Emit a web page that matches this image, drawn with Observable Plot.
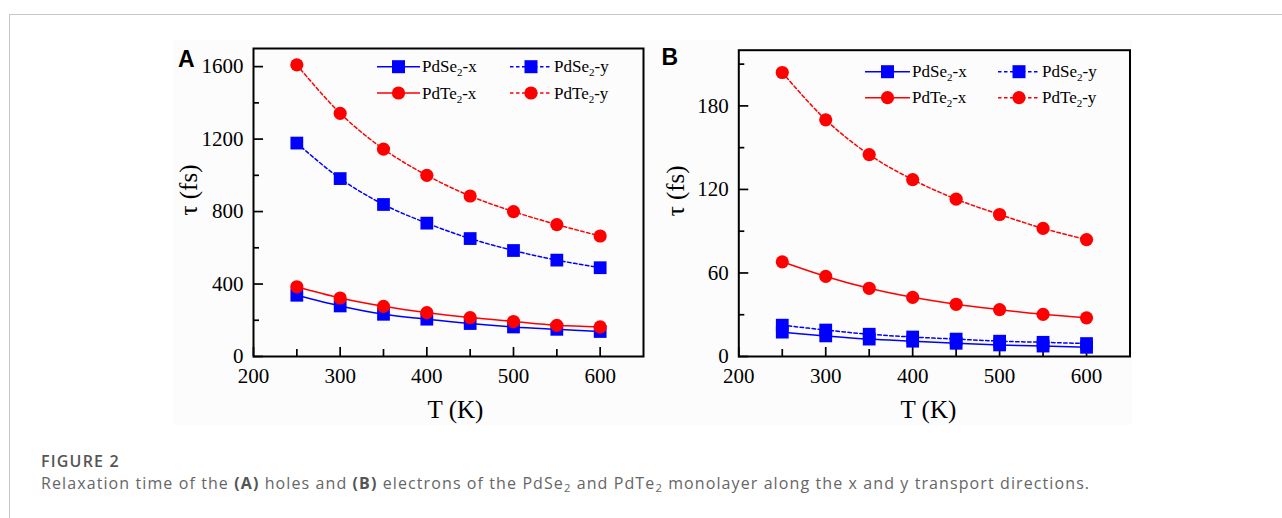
<!DOCTYPE html>
<html><head><meta charset="utf-8">
<script src="https://cdn.jsdelivr.net/npm/d3@7"></script>
<script src="https://cdn.jsdelivr.net/npm/@observablehq/plot@0.6"></script>
<style>
html,body{margin:0;padding:0;background:#fff;}
#page{position:relative;width:1282px;height:518px;overflow:hidden;background:#fff;}
#card{position:absolute;left:9px;top:14px;width:1300px;height:540px;border-left:1px solid #c8c8c8;border-top:1px solid #c8c8c8;}
#figbg{position:absolute;left:173px;top:40px;width:959px;height:385px;background:#fcfcfc;}
.panel{position:absolute;top:40px;}
#panelA{left:170px;} #panelB{left:650px;}
#figlabel{position:absolute;left:41px;top:452.8px;font-family:"Open Sans";font-weight:600;font-size:16px;letter-spacing:1.2px;line-height:1;color:#555;white-space:nowrap;}
#caption{position:absolute;left:41px;top:474.8px;font-family:"Open Sans";font-size:16px;letter-spacing:1.1px;line-height:1;color:#666;white-space:nowrap;}
#caption b{font-weight:700;color:#555;}
#caption sub{font-size:0.7em;vertical-align:-0.3em;line-height:0;}
</style></head>
<body>
<div id="page">
  <div id="card"></div>
  <div id="figbg"></div>
  <div class="panel" id="panelA"></div>
  <div class="panel" id="panelB"></div>
  <div id="figlabel">FIGURE 2</div>
  <div id="caption">Relaxation time of the <b>(A)</b> holes and <b>(B)</b> electrons of the PdSe<sub>2</sub> and PdTe<sub>2</sub> monolayer along the x and y transport directions.</div>
</div>
<script>
// ---- data ----
const temps = [250, 300, 350, 400, 450, 500, 550, 600];
// Panel A: holes (fs)
const holesPdSe2x = [338, 279, 233, 206, 182, 163, 150, 138];
const holesPdSe2y = [1178, 982, 839, 736, 651, 585, 532, 490];
const holesPdTe2x = [385, 323, 277, 242, 215, 193, 172, 163];
const holesPdTe2y = [1610, 1342, 1145, 1000, 886, 800, 728, 665];
// Panel B: electrons (fs)
const elecPdSe2x = [17.5, 14.8, 12.5, 11.0, 9.5, 8.3, 7.5, 6.6];
const elecPdSe2y = [22.5, 19.0, 16.0, 14.0, 12.5, 11.0, 10.2, 9.3];
const elecPdTe2x = [68, 57.5, 49, 42.5, 37.5, 33.7, 30.3, 27.8];
const elecPdTe2y = [204, 170, 145, 127, 113, 102, 92, 84];
// ticks
const xMajor = [200, 300, 400, 500, 600];
const xMinor = [250, 350, 450, 550];
const yMajorA = [0, 400, 800, 1200, 1600];
const yMinorA = [200, 600, 1000, 1400];
const yMajorB = [0, 60, 120, 180];
const yMinorB = [30, 90, 150, 210];
const seriesNames = ["PdSe2-x", "PdSe2-y", "PdTe2-x", "PdTe2-y"];

const BLUE = "#0000ff", RED = "#ff0000";
const SERIF = "Liberation Serif, Times New Roman, serif";
const styles = {
  "PdSe2-x": {color: BLUE, dash: null, symbol: "square"},
  "PdSe2-y": {color: BLUE, dash: "3.5,2.5", symbol: "square"},
  "PdTe2-x": {color: RED, dash: null, symbol: "circle"},
  "PdTe2-y": {color: RED, dash: "3.5,2.5", symbol: "circle"}
};

function rows(vals, name) { return temps.map((t, i) => ({T: t, tau: vals[i], s: name})); }

function panel(cfg) {
  const pw = cfg.width - cfg.mL - cfg.mR;
  const ph = cfg.height - cfg.mT - cfg.mB;
  const marks = [
    Plot.tickX(xMinor, {x: d => d, insetTop: ph - 7, stroke: "#000", strokeWidth: 1.7}),
    Plot.tickX(xMajor, {x: d => d, insetTop: ph - 9, stroke: "#000", strokeWidth: 1.7}),
    Plot.tickY(cfg.yMinor, {y: d => d, insetRight: pw - 6, stroke: "#000", strokeWidth: 1.7}),
    Plot.tickY(cfg.yMajor, {y: d => d, insetRight: pw - 10, stroke: "#000", strokeWidth: 1.7}),
    Plot.axisX({ticks: xMajor, tickSize: 0, tickPadding: 12, tickFormat: "d", fontSize: 21, fontFamily: SERIF, fill: "#000", label: null}),
    Plot.axisY({ticks: cfg.yMajor, tickSize: 0, tickPadding: 10, tickFormat: "d", fontSize: 21, fontFamily: SERIF, fill: "#000", label: null}),
    Plot.text(["T (K)"], {text: d => d, frameAnchor: "bottom", dy: 53, dx: cfg.xTitleDx, fontSize: 25, fontFamily: SERIF, lineAnchor: "middle", fill: "#000"}),
    Plot.text(["τ (fs)"], {text: d => d, frameAnchor: "left", dx: cfg.yTitleDx, dy: 13, rotate: -90, fontSize: 25, fontFamily: SERIF, lineAnchor: "middle", fill: "#000"})
  ];
  cfg.series.forEach(([name, vals]) => {
    const st = styles[name];
    const data = rows(vals, name);
    marks.push(Plot.line(data, {x: "T", y: "tau", curve: "catmull-rom", stroke: st.color, strokeWidth: 1.5, strokeDasharray: st.dash}));
    marks.push(Plot.dot(data, {x: "T", y: "tau", symbol: st.symbol, r: st.symbol === "square" ? 7.2 : 6.6, fill: st.color, stroke: "none"}));
  });
  marks.push(Plot.frame({stroke: "#000", strokeWidth: 2}));
  const svg = Plot.plot({
    width: cfg.width, height: cfg.height,
    marginLeft: cfg.mL, marginRight: cfg.mR, marginTop: cfg.mT, marginBottom: cfg.mB,
    x: {domain: [200, 650]},
    y: {domain: cfg.yDomain},
    style: {background: "transparent", overflow: "visible"},
    marks
  });
  // legend
  const g = d3.select(svg).append("g").attr("font-family", SERIF).attr("font-size", 17).attr("text-anchor", "start");
  seriesNames.forEach((name, i) => {
    const st = styles[name];
    const col = cfg.legend.cols[i % 2];
    const yy = cfg.legend.rows[Math.floor(i / 2)];
    g.append("line").attr("x1", col.x0).attr("x2", col.x1).attr("y1", yy).attr("y2", yy)
      .attr("stroke", st.color).attr("stroke-width", 1.5).attr("stroke-dasharray", st.dash);
    const mx = (col.x0 + col.x1) / 2;
    if (st.symbol === "square") {
      g.append("rect").attr("x", mx - 6.5).attr("y", yy - 6.5).attr("width", 13).attr("height", 13).attr("fill", st.color);
    } else {
      g.append("circle").attr("cx", mx).attr("cy", yy).attr("r", 6.6).attr("fill", st.color);
    }
    const [base, dir] = name.split("2");
    const t = g.append("text").attr("x", col.x1 + 2).attr("y", yy + 5.5).attr("fill", "#000").attr("text-anchor", "start");
    t.append("tspan").text(base);
    t.append("tspan").attr("font-size", 11).attr("dy", 4).text("2");
    t.append("tspan").attr("dy", -4).text(dir);
  });
  // panel letter
  d3.select(svg).append("text").attr("x", cfg.letter.x).attr("y", cfg.letter.y)
    .attr("text-anchor", "start")
    .attr("font-family", "Liberation Sans, Arial, sans-serif").attr("font-weight", "bold")
    .attr("font-size", 23).attr("fill", "#000").text(cfg.letter.t);
  return svg;
}

document.getElementById("panelA").appendChild(panel({
  width: 480, height: 395, mL: 83, mR: 7, mT: 8, mB: 79,
  yDomain: [0, 1700], yMajor: yMajorA, yMinor: yMinorA,
  xTitleDx: 7, yTitleDx: -65,
  series: [["PdSe2-x", holesPdSe2x], ["PdSe2-y", holesPdSe2y], ["PdTe2-x", holesPdTe2x], ["PdTe2-y", holesPdTe2y]],
  legend: {cols: [{x0: 207, x1: 250}, {x0: 340, x1: 382}], rows: [26.7, 53]},
  letter: {t: "A", x: 8, y: 27}
}));

document.getElementById("panelB").appendChild(panel({
  width: 490, height: 395, mL: 88.3, mR: 10.5, mT: 9.7, mB: 79,
  yDomain: [0, 220], yMajor: yMajorB, yMinor: yMinorB,
  xTitleDx: -6, yTitleDx: -63,
  series: [["PdSe2-x", elecPdSe2x], ["PdSe2-y", elecPdSe2y], ["PdTe2-x", elecPdTe2x], ["PdTe2-y", elecPdTe2y]],
  legend: {cols: [{x0: 215, x1: 260}, {x0: 348, x1: 390}], rows: [31.7, 57.7]},
  letter: {t: "B", x: 11.5, y: 25}
}));
</script>
</body></html>
